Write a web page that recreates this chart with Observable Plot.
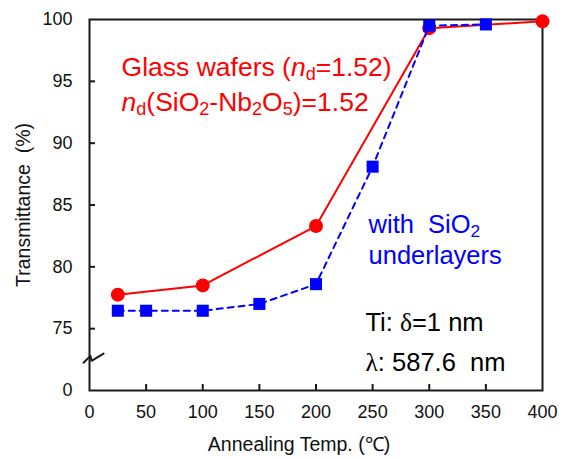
<!DOCTYPE html>
<html>
<head>
<meta charset="utf-8">
<script src="https://cdn.jsdelivr.net/npm/d3@7"></script>
<script src="https://cdn.jsdelivr.net/npm/@observablehq/plot@0.6"></script>
<style>
  html, body { margin: 0; padding: 0; background: #fff; }
  svg text { white-space: pre; }
  svg [aria-label="y-axis label"] text, svg [aria-label="x-axis label"] text { font-size: 19.5px; }
</style>
</head>
<body>
<div id="chart"></div>
<script>
// Data
const glassTemps = [25, 100, 200, 300, 400];
const glassValues = [77.75, 78.5, 83.3, 99.3, 99.85];
const sio2Temps = [25, 50, 100, 150, 200, 250, 300, 350];
const sio2Values = [76.45, 76.45, 76.45, 77.0, 78.6, 88.1, 99.5, 99.6];

const xTicks = [0, 50, 100, 150, 200, 250, 300, 350, 400];
const yTicks = [70, 75, 80, 85, 90, 95, 100];           // 70 = broken-axis "0"
const yTickLabels = ["0", "75", "80", "85", "90", "95", "100"];

// axis-break zigzag (data coordinates, drawn outside the frame)
const breakX = [-5.3, 0.9, 1.8, 12.4];
const breakY = [72.25, 72.8, 72.4, 72.98];

// annotations
const redLabels = ["Glass wafers (nd=1.52)", "nd(SiO2-Nb2O5)=1.52"];
const redX = [28.3, 28.3];
const redY = [95.4, 92.6];
const blueLabels = ["with SiO2", "underlayers"];
const blueX = [246.4, 246.4];
const blueY = [82.77, 80.26];
const blackLabels = ["Ti: δ=1 nm", "λ: 587.6  nm"];
const blackX = [243.7, 243.7];
const blackY = [74.84, 71.6];

const glass = glassTemps.map((t, i) => ({t, v: glassValues[i]}));
const sio2 = sio2Temps.map((t, i) => ({t, v: sio2Values[i]}));
const brk = breakX.map((x, i) => ({x, y: breakY[i]}));
const mk = (labels, xs, ys) => labels.map((s, i) => ({s, x: xs[i], y: ys[i]}));

const W = 567, H = 459, ML = 89, MR = 25, MT = 19, MB = 69;
const innerW = W - ML - MR, innerH = H - MT - MB;
const axisColor = "#1a1a1a";

const plot = Plot.plot({
  width: W, height: H,
  marginLeft: ML, marginRight: MR, marginTop: MT, marginBottom: MB,
  style: {fontFamily: "'Liberation Sans', Arial, sans-serif", fontSize: "18px", color: "#111", background: "white", overflow: "visible"},
  x: {domain: [0, 400], ticks: xTicks, tickSize: 0, tickPadding: 15,
      label: "Annealing Temp. (℃)", labelAnchor: "center", labelOffset: 60, labelArrow: false},
  y: {domain: [70, 100], ticks: yTicks, tickSize: 0, tickPadding: 17,
      tickFormat: d => yTickLabels[yTicks.indexOf(d)],
      label: "Transmittance  (%)", labelAnchor: "center", labelOffset: 73, labelArrow: false},
  marks: [
    Plot.tickY(yTicks.filter(d => d > 70 && d < 100), {y: d => d, insetRight: innerW - 6, stroke: axisColor, strokeWidth: 2}),
    Plot.tickX(xTicks.filter(d => d > 0 && d < 400), {x: d => d, insetTop: innerH - 6, stroke: axisColor, strokeWidth: 2}),
    Plot.frame({stroke: axisColor, strokeWidth: 2}),
    Plot.line(brk, {x: "x", y: "y", stroke: axisColor, strokeWidth: 2, clip: false}),
    Plot.line(glass, {x: "t", y: "v", stroke: "#ff0000", strokeWidth: 2}),
    Plot.dot(glass, {x: "t", y: "v", fill: "#ff0000", r: 7}),
    Plot.line(sio2, {x: "t", y: "v", stroke: "#0000ff", strokeWidth: 2, strokeDasharray: "6,5"}),
    Plot.dot(sio2, {x: "t", y: "v", symbol: "square", fill: "#0000ff", r: 6.8}),
    Plot.text(mk(redLabels, redX, redY), {x: "x", y: "y", text: "s", fill: "#ff0000", fontSize: 26.5, textAnchor: "start", lineAnchor: "bottom"}),
    Plot.text(mk(blueLabels, blueX, blueY), {x: "x", y: "y", text: "s", fill: "#0000ff", fontSize: 25.5, textAnchor: "start", lineAnchor: "bottom"}),
    Plot.text(mk(blackLabels, blackX, blackY), {x: "x", y: "y", text: "s", fill: "#000", fontSize: 25.5, textAnchor: "start", lineAnchor: "bottom"})
  ]
});

// rich text: italics, subscripts, serif Greek
const sub = t => `<tspan baseline-shift="-0.22em" font-size="68%">${t}</tspan>`;
const rich = {
  "Glass wafers (nd=1.52)": `Glass wafers (<tspan font-style="italic">n</tspan>${sub("d")}=1.52)`,
  "nd(SiO2-Nb2O5)=1.52": `<tspan font-style="italic">n</tspan>${sub("d")}(SiO${sub("2")}-Nb${sub("2")}O${sub("5")})=1.52`,
  "with SiO2": `with  SiO${sub("2")}`,
  "Ti: δ=1 nm": `Ti: <tspan font-family="'Liberation Serif', serif">δ</tspan>=1 nm`,
  "λ: 587.6  nm": `<tspan font-family="'Liberation Serif', serif">λ</tspan>: 587.6  nm`
};
d3.select(plot).selectAll("text").each(function() {
  const c = this.textContent;
  if (rich[c]) this.innerHTML = rich[c];
  else if (/ [↑→]$|^[↑→] /.test(c)) this.textContent = c.replace(/ [↑→]$/, "").replace(/^[↑→] /, "");
});
// nudge the x-axis title slightly left, as in the reference
const xl = plot.querySelector('[aria-label="x-axis label"]');
if (xl) xl.setAttribute("transform", ((xl.getAttribute("transform") || "") + " translate(-17,0)").trim());

document.getElementById("chart").appendChild(plot);
</script>
</body>
</html>
